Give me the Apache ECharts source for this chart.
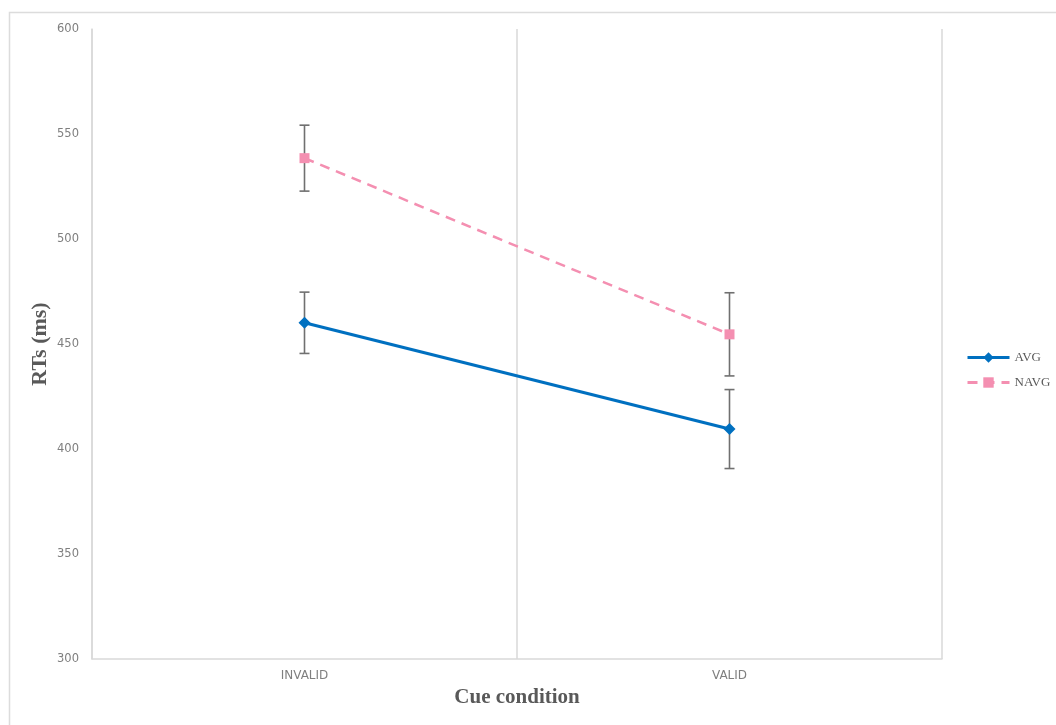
<!DOCTYPE html>
<html>
<head>
<meta charset="utf-8">
<script src="https://cdn.jsdelivr.net/npm/echarts@6/dist/echarts.min.js"></script>
<style>
  html, body { margin: 0; padding: 0; background: #fff; }
  #chart { width: 1056px; height: 725px; }
</style>
</head>
<body>
<div id="chart"></div>
<script>
// Cue conditions on the x axis
const categories = ['INVALID', 'VALID'];

// Mean reaction times (ms) per group
const avgMeans  = [460.1, 409.5];
const navgMeans = [538.5, 454.6];

// Error bar half-widths (ms)
const avgErr  = [14.6, 18.8];
const navgErr = [15.7, 19.8];

const yTicks = { min: 300, max: 600, interval: 50 };

function errorRows(means, errs) {
  return means.map((m, i) => [i, m - errs[i], m + errs[i]]);
}

function errorBarRenderer(params, api) {
  const x = api.value(0);
  const lo = api.coord([x, api.value(1)]);
  const hi = api.coord([x, api.value(2)]);
  const half = 5;
  const style = { stroke: '#707070', lineWidth: 1.6 };
  return {
    type: 'group',
    children: [
      { type: 'line', shape: { x1: lo[0], y1: lo[1], x2: hi[0], y2: hi[1] }, style },
      { type: 'line', shape: { x1: hi[0] - half, y1: hi[1], x2: hi[0] + half, y2: hi[1] }, style },
      { type: 'line', shape: { x1: lo[0] - half, y1: lo[1], x2: lo[0] + half, y2: lo[1] }, style }
    ]
  };
}

const chart = echarts.init(document.getElementById('chart'), null, { renderer: 'canvas' });

chart.setOption({
  backgroundColor: '#ffffff',
  animation: false,
  graphic: [{
    type: 'rect',
    shape: { x: 9.5, y: 12.5, width: 1200, height: 900 },
    style: { fill: 'none', stroke: '#dcdcdc', lineWidth: 1.5 },
    silent: true
  }],
  grid: { left: 92, right: 114, top: 29, bottom: 66 },
  legend: {
    orient: 'vertical',
    left: 961,
    top: 346,
    itemWidth: 42,
    itemHeight: 13,
    itemGap: 12,
    textStyle: { fontFamily: 'Liberation Serif', fontSize: 13, color: '#595959' },
    data: [
      { name: 'AVG', itemStyle: { color: '#0070c0' }, lineStyle: { width: 3 } },
      { name: 'NAVG', itemStyle: { color: '#f48fb1' }, lineStyle: { width: 3 } }
    ]
  },
  xAxis: {
    type: 'category',
    data: categories,
    boundaryGap: true,
    name: 'Cue condition',
    nameLocation: 'middle',
    nameGap: 28,
    nameMoveOverlap: false,
    nameTextStyle: { fontFamily: 'Liberation Serif', fontWeight: 'bold', fontSize: 21, color: '#595959' },
    axisLine: { show: true, lineStyle: { color: '#d9d9d9', width: 1.5 } },
    axisTick: { show: false },
    splitLine: { show: true, lineStyle: { color: '#d9d9d9', width: 1.5 } },
    axisLabel: { fontFamily: 'DejaVu Sans', fontSize: 12, color: '#7f7f7f', margin: 11 }
  },
  yAxis: {
    type: 'value',
    min: yTicks.min,
    max: yTicks.max,
    interval: yTicks.interval,
    name: 'RTs (ms)',
    nameLocation: 'middle',
    nameGap: 41,
    nameRotate: 90,
    nameMoveOverlap: false,
    nameTextStyle: { fontFamily: 'Liberation Serif', fontWeight: 'bold', fontSize: 22, color: '#595959' },
    axisLine: { show: true, lineStyle: { color: '#d9d9d9', width: 1.5 } },
    axisTick: { show: false },
    splitLine: { show: false },
    axisLabel: { fontFamily: 'DejaVu Sans', fontSize: 11.5, color: '#7f7f7f', margin: 13 }
  },
  series: [
    {
      name: 'AVG',
      type: 'line',
      data: avgMeans,
      symbol: 'diamond',
      symbolSize: 12,
      itemStyle: { color: '#0070c0' },
      lineStyle: { color: '#0070c0', width: 3 },
      z: 3
    },
    {
      name: 'NAVG',
      type: 'line',
      data: navgMeans,
      symbol: 'rect',
      symbolSize: 10,
      itemStyle: { color: '#f48fb1' },
      lineStyle: { color: '#f48fb1', width: 2.5, type: [10, 7] },
      z: 3
    },
    {
      name: 'AVG error',
      type: 'custom',
      data: errorRows(avgMeans, avgErr),
      renderItem: errorBarRenderer,
      encode: { x: 0, y: [1, 2] },
      z: 2
    },
    {
      name: 'NAVG error',
      type: 'custom',
      data: errorRows(navgMeans, navgErr),
      renderItem: errorBarRenderer,
      encode: { x: 0, y: [1, 2] },
      z: 2
    }
  ]
});
</script>
</body>
</html>
